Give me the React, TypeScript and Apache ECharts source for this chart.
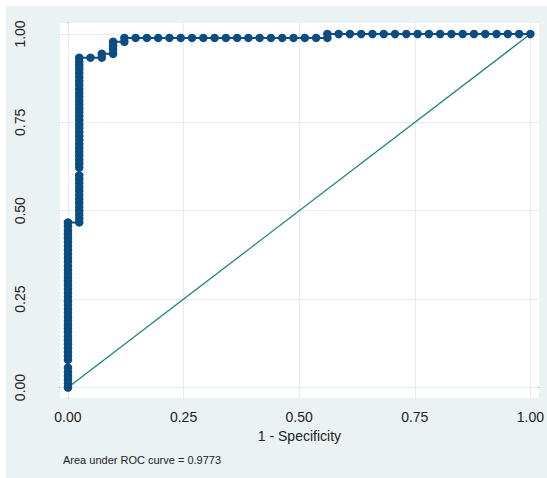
import { useEffect, useRef } from "react";
import * as echarts from "echarts";

// Tick values
const xTicks = [0, 0.25, 0.5, 0.75, 1];
const yTicks = [0, 0.25, 0.5, 0.75, 1];

// ROC curve: first column (1 - specificity = 0)
const col0Fpr = 0;
const col0Tpr = [
  0, 0.011, 0.022, 0.033, 0.044, 0.056, 0.078, 0.089, 0.1, 0.111, 0.122, 0.133, 0.144, 0.156,
  0.167, 0.178, 0.189, 0.2, 0.211, 0.222, 0.233, 0.244, 0.256, 0.267, 0.278, 0.289, 0.3, 0.311,
  0.322, 0.333, 0.344, 0.356, 0.367, 0.378, 0.389, 0.4, 0.411, 0.422, 0.433, 0.444, 0.456, 0.467,
];

// second column (1 - specificity = 1/41)
const col1Fpr = 0.0244;
const col1Tpr = [
  0.467, 0.478, 0.489, 0.5, 0.511, 0.522, 0.533, 0.544, 0.556, 0.567, 0.578, 0.589, 0.6, 0.622,
  0.633, 0.644, 0.656, 0.667, 0.678, 0.689, 0.7, 0.711, 0.722, 0.733, 0.744, 0.756, 0.767, 0.778,
  0.789, 0.8, 0.811, 0.822, 0.833, 0.844, 0.856, 0.867, 0.878, 0.889, 0.9, 0.911, 0.922, 0.933,
];

// remaining points
const tailFpr = [
  0.0488, 0.0732, 0.0732, 0.0976, 0.0976, 0.0976, 0.0976, 0.122, 0.122, 0.1463, 0.1707, 0.1951,
  0.2195, 0.2439, 0.2683, 0.2927, 0.3171, 0.3415, 0.3659, 0.3902, 0.4146, 0.439, 0.4634, 0.4878,
  0.5122, 0.5366, 0.561, 0.561, 0.5854, 0.6098, 0.6341, 0.6585, 0.6829, 0.7073, 0.7317, 0.7561,
  0.7805, 0.8049, 0.8293, 0.8537, 0.878, 0.9024, 0.9268, 0.9512, 0.9756, 1.0,
];
const tailTpr = [
  0.933, 0.933, 0.944, 0.944, 0.956, 0.967, 0.978, 0.978, 0.989, 0.989, 0.989, 0.989, 0.989,
  0.989, 0.989, 0.989, 0.989, 0.989, 0.989, 0.989, 0.989, 0.989, 0.989, 0.989, 0.989, 0.989,
  0.989, 1, 1, 1, 1, 1, 1, 1, 1, 1, 1, 1, 1, 1, 1, 1, 1, 1, 1, 1,
];

// reference diagonal
const diagX = [0, 1];
const diagY = [0, 1];

const noteText = "Area under ROC curve = 0.9773";
const xTitle = "1 - Specificity";

const FONT = "'Liberation Sans', Arial, Helvetica, sans-serif";
const CURVE = "#0b4c82";
const DIAG = "#23837c";
const GRIDC = "#e4edf0";
const AXISC = "#333333";

export default function App() {
  const ref = useRef<HTMLDivElement>(null);
  useEffect(() => {
    if (!ref.current) return;
    const chart = echarts.init(ref.current, undefined, { renderer: "svg" });
    const curve = [
      ...col0Tpr.map((v) => [col0Fpr, v]),
      ...col1Tpr.map((v) => [col1Fpr, v]),
      ...tailFpr.map((x, i) => [x, tailTpr[i]]),
    ];
    const diag = diagX.map((x, i) => [x, diagY[i]]);
    chart.setOption({
      animation: false,
      backgroundColor: "#eaf2f3",
      textStyle: { fontFamily: FONT },
      grid: {
        left: 54,
        top: 17,
        right: 5,
        bottom: 80,
        show: true,
        backgroundColor: "#ffffff",
        borderWidth: 0,
        containLabel: false,
      },
      xAxis: {
        type: "value",
        min: -0.0172,
        max: 1.0183,
        name: xTitle,
        nameLocation: "middle",
        nameGap: 28,
        nameTextStyle: { fontSize: 14, color: "#222", fontFamily: FONT },
        axisLine: { show: true, lineStyle: { color: AXISC, width: 1 } },
        axisTick: { show: true, length: 5, lineStyle: { color: AXISC }, customValues: xTicks },
        axisLabel: {
          fontSize: 14,
          color: "#222",
          margin: 12,
          fontFamily: FONT,
          customValues: xTicks,
          formatter: (v: number) => v.toFixed(2),
        },
        splitLine: { show: false },
      },
      yAxis: {
        type: "value",
        min: -0.0297,
        max: 1.0311,
        axisLine: { show: true, lineStyle: { color: AXISC, width: 1 } },
        axisTick: { show: true, length: 5, lineStyle: { color: AXISC }, customValues: yTicks },
        axisLabel: {
          fontSize: 14,
          color: "#222",
          rotate: 90,
          margin: 33,
          fontFamily: FONT,
          customValues: yTicks,
          formatter: (v: number) => v.toFixed(2),
        },
        splitLine: { show: false },
      },
      series: [
        {
          type: "line",
          data: [],
          z: 1,
          silent: true,
          markLine: {
            silent: true,
            z: 1,
            zlevel: 0,
            symbol: ["none", "none"],
            label: { show: false },
            lineStyle: { color: GRIDC, type: "solid", width: 1 },
            emphasis: { disabled: true },
            data: [
              ...xTicks.map((v) => ({ xAxis: v })),
              ...yTicks.map((v) => ({ yAxis: v })),
            ],
          },
        },
        {
          type: "line",
          data: diag,
          z: 3,
          silent: true,
          symbol: "none",
          lineStyle: { color: DIAG, width: 1.3 },
        },
        {
          type: "line",
          data: curve,
          z: 4,
          silent: true,
          symbol: "circle",
          symbolSize: 8.5,
          showSymbol: true,
          showAllSymbol: true,
          itemStyle: { color: CURVE },
          lineStyle: { color: CURVE, width: 2 },
        },
      ],
      graphic: [
        {
          type: "text",
          left: 57,
          top: 448,
          style: { text: noteText, fontSize: 11, fill: "#222", fontFamily: FONT },
        },
      ],
    });
    return () => chart.dispose();
  }, []);
  return (
    <div
      ref={ref}
      style={{ position: "absolute", left: 6, top: 6, width: 541, height: 472 }}
    />
  );
}
